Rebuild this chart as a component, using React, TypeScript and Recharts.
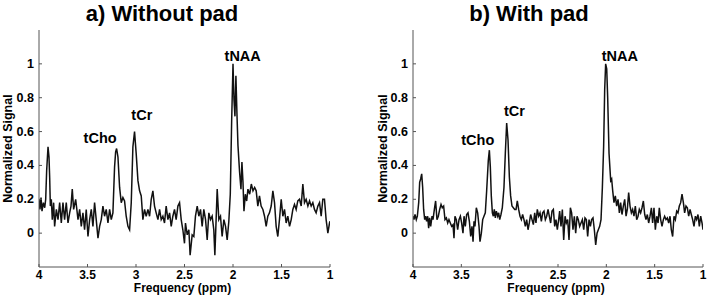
import React from 'react';
import { LineChart, Line, XAxis, YAxis, ReferenceDot, Label } from 'recharts';

// panel a) without pad: chemical shift (ppm) and normalized signal
const ppmA = [
  4.0, 3.99, 3.979, 3.969, 3.955, 3.941,
  3.931, 3.921, 3.907, 3.897, 3.89, 3.883, 3.873, 3.863, 3.849, 3.839,
  3.821, 3.804, 3.787, 3.77, 3.753, 3.736, 3.719, 3.701, 3.684, 3.67,
  3.657, 3.643, 3.622, 3.598, 3.581, 3.564, 3.547, 3.53, 3.513, 3.495,
  3.478, 3.461, 3.444, 3.427, 3.41, 3.392, 3.375, 3.358, 3.341, 3.324,
  3.307, 3.289, 3.272, 3.255, 3.238, 3.221, 3.21, 3.2, 3.186, 3.169,
  3.152, 3.135, 3.118, 3.101, 3.083, 3.066, 3.049, 3.032, 3.015, 2.998,
  2.98, 2.963, 2.946, 2.929, 2.912, 2.895, 2.877, 2.86, 2.843, 2.826,
  2.809, 2.792, 2.774, 2.757, 2.74, 2.723, 2.706, 2.689, 2.671, 2.654,
  2.637, 2.62, 2.603, 2.586, 2.568, 2.551, 2.534, 2.517, 2.5, 2.49,
  2.472, 2.455, 2.442, 2.421, 2.404, 2.387, 2.369, 2.352, 2.335, 2.318,
  2.301, 2.283, 2.266, 2.249, 2.232, 2.215, 2.198, 2.187, 2.163, 2.146,
  2.129, 2.112, 2.094, 2.077, 2.06, 2.043, 2.028, 2.014, 2.0, 1.99,
  1.98, 1.97, 1.959, 1.949, 1.932, 1.918, 1.908, 1.897, 1.887, 1.873,
  1.859, 1.846, 1.828, 1.811, 1.794, 1.777, 1.761, 1.744, 1.727, 1.71,
  1.692, 1.675, 1.658, 1.641, 1.624, 1.606, 1.589, 1.572, 1.555, 1.538,
  1.521, 1.503, 1.486, 1.469, 1.452, 1.435, 1.417, 1.4, 1.383, 1.366,
  1.349, 1.332, 1.314, 1.297, 1.28, 1.263, 1.246, 1.228, 1.211, 1.194,
  1.177, 1.16, 1.143, 1.125, 1.108, 1.091, 1.074, 1.057, 1.04, 1.022,
  1.005, 1.0,
];
const signalA = [
  0.2, 0.14, 0.21, 0.13, 0.18, 0.15,
  0.2, 0.37, 0.51, 0.45, 0.33, 0.16, 0.2, 0.08, 0.18, 0.04,
  0.14, 0.08, 0.18, 0.06, 0.18, 0.08, 0.18, 0.06, 0.12, 0.16,
  0.26, 0.14, 0.2, 0.08, 0.14, 0.04, 0.12, 0.02, 0.14, -0.02,
  0.08, 0.14, 0.04, 0.18, 0.08, -0.03, 0.04, 0.08, 0.16, 0.1,
  0.14, 0.06, 0.14, 0.08, 0.12, 0.39, 0.48, 0.5, 0.45, 0.27,
  0.18, 0.21, 0.19, 0.1, 0.04, 0.02, 0.18, 0.51, 0.6, 0.47,
  0.31, 0.25, 0.22, 0.08, 0.14, 0.1, 0.14, 0.1, 0.2, 0.25,
  0.16, 0.12, 0.08, 0.14, 0.08, 0.1, 0.06, 0.16, 0.08, 0.12,
  0.04, 0.1, 0.14, 0.08, 0.16, 0.18, 0.08, 0.02, -0.06, 0.06,
  -0.01, 0.02, -0.13, -0.01, -0.02, 0.1, 0.16, 0.1, 0.14, 0.04,
  0.14, 0.08, -0.04, 0.12, 0.08, 0.1, 0.02, -0.13, 0.26, 0.08,
  0.1, -0.02, 0.08, 0.04, -0.04, 0.07, 0.23, 0.66, 1.0, 0.79,
  0.69, 0.93, 0.7, 0.52, 0.36, 0.26, 0.42, 0.3, 0.13, 0.23,
  0.19, 0.26, 0.23, 0.29, 0.25, 0.27, 0.25, 0.16, 0.22, 0.16,
  0.14, 0.1, 0.04, 0.1, 0.12, 0.16, 0.25, 0.18, 0.04, -0.02,
  0.08, 0.2, 0.1, 0.14, 0.06, 0.1, 0.04, 0.08, 0.14, 0.17,
  0.14, 0.19, 0.2, 0.16, 0.29, 0.18, 0.2, 0.16, 0.19, 0.16,
  0.18, 0.14, 0.12, 0.16, 0.18, 0.1, 0.2, 0.2, 0.08, 0.0,
  0.06, 0.07,
];

// panel b) with pad
const ppmB = [
  4.0, 3.99, 3.979, 3.966, 3.955, 3.941, 3.931, 3.921, 3.91, 3.9,
  3.89, 3.879, 3.869, 3.859, 3.848, 3.838, 3.828, 3.817, 3.803, 3.793,
  3.779, 3.766, 3.752, 3.738, 3.724, 3.71, 3.697, 3.683, 3.669, 3.655,
  3.641, 3.628, 3.614, 3.6, 3.586, 3.576, 3.566, 3.552, 3.538, 3.524,
  3.51, 3.497, 3.483, 3.472, 3.459, 3.445, 3.431, 3.417, 3.403, 3.39,
  3.379, 3.369, 3.359, 3.345, 3.331, 3.317, 3.307, 3.293, 3.279, 3.266,
  3.252, 3.238, 3.221, 3.21, 3.2, 3.19, 3.179, 3.169, 3.159, 3.148,
  3.138, 3.124, 3.114, 3.103, 3.09, 3.076, 3.059, 3.045, 3.031, 3.017,
  3.003, 2.99, 2.976, 2.962, 2.948, 2.934, 2.921, 2.907, 2.893, 2.879,
  2.866, 2.852, 2.838, 2.824, 2.81, 2.797, 2.783, 2.769, 2.755, 2.741,
  2.728, 2.714, 2.7, 2.686, 2.672, 2.659, 2.645, 2.631, 2.617, 2.603,
  2.59, 2.576, 2.562, 2.548, 2.534, 2.521, 2.507, 2.493, 2.483, 2.469,
  2.455, 2.441, 2.427, 2.414, 2.4, 2.386, 2.372, 2.359, 2.345, 2.331,
  2.317, 2.303, 2.29, 2.276, 2.262, 2.248, 2.234, 2.221, 2.207, 2.193,
  2.179, 2.165, 2.152, 2.138, 2.124, 2.11, 2.096, 2.083, 2.069, 2.055,
  2.041, 2.028, 2.017, 2.007, 1.996, 1.986, 1.972, 1.955, 1.945, 1.934,
  1.921, 1.907, 1.893, 1.879, 1.865, 1.852, 1.838, 1.824, 1.81, 1.796,
  1.783, 1.769, 1.755, 1.741, 1.728, 1.714, 1.7, 1.686, 1.672, 1.659,
  1.645, 1.631, 1.617, 1.603, 1.59, 1.576, 1.562, 1.548, 1.534, 1.521,
  1.507, 1.493, 1.479, 1.465, 1.452, 1.438, 1.424, 1.41, 1.397, 1.383,
  1.369, 1.355, 1.341, 1.328, 1.314, 1.3, 1.286, 1.272, 1.259, 1.245,
  1.231, 1.217, 1.203, 1.19, 1.176, 1.162, 1.148, 1.134, 1.121, 1.107,
  1.093, 1.079, 1.066, 1.052, 1.038, 1.024, 1.01, 1.0,
];
const signalB = [
  0.1, 0.08, 0.11, 0.08, 0.1, 0.18, 0.3, 0.32, 0.35, 0.27,
  0.14, 0.08, 0.1, 0.07, 0.1, 0.03, 0.09, 0.04, 0.1, 0.08,
  0.14, 0.19, 0.08, 0.1, 0.14, 0.17, 0.15, 0.16, 0.08, 0.09,
  0.06, 0.08, 0.06, 0.04, 0.05, -0.03, 0.1, 0.08, 0.02, 0.08,
  0.1, 0.06, 0.0, 0.1, 0.04, 0.11, 0.12, 0.07, -0.02, 0.04,
  -0.05, 0.07, 0.04, 0.15, 0.12, 0.04, -0.05, 0.0, 0.08, 0.1,
  0.12, 0.25, 0.43, 0.49, 0.39, 0.22, 0.12, 0.1, 0.14, 0.09,
  0.13, 0.1, 0.12, 0.08, 0.11, 0.15, 0.27, 0.47, 0.65, 0.55,
  0.33, 0.22, 0.16, 0.15, 0.14, 0.14, 0.19, 0.14, 0.1, 0.08,
  0.11, 0.08, 0.04, 0.08, 0.02, 0.06, 0.11, 0.08, 0.05, 0.12,
  0.06, 0.14, 0.1, 0.12, 0.07, 0.12, 0.13, 0.08, 0.1, 0.14,
  0.1, 0.06, 0.13, 0.14, 0.04, 0.08, 0.02, 0.08, 0.13, 0.04,
  0.14, -0.04, 0.1, 0.06, 0.08, -0.04, 0.15, 0.12, 0.02, 0.1,
  0.0, 0.1, 0.08, 0.04, 0.06, 0.08, 0.02, 0.09, 0.08, -0.02,
  0.08, 0.04, 0.08, 0.09, 0.02, -0.07, 0.0, 0.02, 0.04, 0.08,
  0.27, 0.51, 0.85, 1.0, 0.97, 0.8, 0.47, 0.31, 0.32, 0.25,
  0.18, 0.22, 0.16, 0.2, 0.12, 0.18, 0.11, 0.16, 0.2, 0.1,
  0.14, 0.24, 0.16, 0.12, 0.14, 0.1, 0.16, 0.08, 0.1, 0.14,
  0.12, 0.15, 0.19, 0.11, 0.08, 0.11, 0.06, 0.1, 0.15, 0.06,
  0.15, 0.02, 0.1, 0.06, 0.15, 0.08, 0.04, 0.08, 0.1, 0.08,
  0.09, 0.06, 0.1, 0.02, -0.02, 0.1, 0.08, 0.13, 0.12, 0.16,
  0.18, 0.23, 0.18, 0.12, 0.16, 0.15, 0.1, 0.14, 0.11, 0.08,
  0.04, 0.1, 0.08, 0.11, 0.04, 0.1, 0.06, 0.02,
];

const xTicks = [4, 3.5, 3, 2.5, 2, 1.5, 1];
const yTicks = [0, 0.2, 0.4, 0.6, 0.8, 1];

const peaksA = [
  { name: 'tCho', ppm: 3.37, value: 0.56 },
  { name: 'tCr', ppm: 2.94, value: 0.7 },
  { name: 'tNAA', ppm: 1.9, value: 1.05 },
];
const peaksB = [
  { name: 'tCho', ppm: 3.33, value: 0.55 },
  { name: 'tCr', ppm: 2.95, value: 0.72 },
  { name: 'tNAA', ppm: 1.86, value: 1.05 },
];

const FONT = '"Liberation Sans", Arial, Helvetica, sans-serif';
const AXIS = '#555';

const XTick = (props: any) => {
  const { x, y, payload } = props;
  return (
    <g>
      <line x1={x} x2={x} y1={y - 8} y2={y - 11} stroke={AXIS} />
      <text x={x} y={y} textAnchor="middle" dominantBaseline="central" fontSize={12} fontWeight="bold" fontFamily={FONT} fill="#000">
        {payload.value}
      </text>
    </g>
  );
};

const YTick = (props: any) => {
  const { x, y, payload } = props;
  return (
    <g>
      <line x1={x + 5} x2={x + 8} y1={y} y2={y} stroke={AXIS} />
      <text x={x} y={y} textAnchor="end" dominantBaseline="central" fontSize={12.5} fontWeight="bold" fontFamily={FONT} fill="#000">
        {payload.value}
      </text>
    </g>
  );
};

const xLabel = (props: any) => {
  const { viewBox } = props;
  const cx = viewBox.x + viewBox.width / 2 - 2;
  const cy = viewBox.y + 21;
  return (
    <text x={cx} y={cy} textAnchor="middle" dominantBaseline="central" fontSize={12} fontWeight="bold" fontFamily={FONT} fill="#000">
      Frequency (ppm)
    </text>
  );
};

const yLabel = (offset: number) => (props: any) => {
  const { viewBox } = props;
  const cx = viewBox.x + offset;
  const cy = viewBox.y + viewBox.height / 2;
  return (
    <text x={cx} y={cy} transform={`rotate(-90, ${cx}, ${cy})`} textAnchor="middle" dominantBaseline="central" fontSize={12.5} fontWeight="bold" fontFamily={FONT} fill="#000">
      Normalized Signal
    </text>
  );
};

interface PanelProps {
  title: string;
  ppm: number[];
  signal: number[];
  peaks: { name: string; ppm: number; value: number }[];
  left: number;
  margin: { top: number; right: number; bottom: number; left: number };
  labelOffset: number;
  titleX: number;
}

const Panel = ({ title, ppm, signal, peaks, left, margin, labelOffset, titleX }: PanelProps) => {
  const data = ppm.map((p, i) => ({ ppm: p, signal: signal[i] }));
  return (
    <div style={{ position: 'absolute', left, top: 0, width: 355, height: 297 }}>
      <div
        style={{
          position: 'absolute', left: titleX - 120, width: 240, top: 2, textAlign: 'center',
          fontFamily: FONT, fontWeight: 'bold', fontSize: 22, lineHeight: '24px', color: '#000',
        }}
      >
        {title}
      </div>
      <LineChart width={355} height={297} data={data} margin={margin}>
        <XAxis
          dataKey="ppm"
          type="number"
          domain={[1, 4]}
          reversed
          allowDataOverflow
          ticks={xTicks}
          interval={0}
          height={30}
          tickSize={0}
          tickMargin={8}
          tickLine={false}
          tick={<XTick />}
          axisLine={{ stroke: AXIS }}
        >
          <Label content={xLabel} />
        </XAxis>
        <YAxis
          type="number"
          domain={[-0.2, 1.2]}
          allowDataOverflow
          ticks={yTicks}
          interval={0}
          width={31}
          tickSize={0}
          tickMargin={5}
          tickLine={false}
          tick={<YTick />}
          axisLine={{ stroke: AXIS }}
        >
          <Label content={yLabel(labelOffset)} />
        </YAxis>
        <Line type="linear" dataKey="signal" stroke="#111" strokeWidth={1.5} dot={false} isAnimationActive={false} />
        {peaks.map((p) => (
          <ReferenceDot key={p.name} x={p.ppm} y={p.value} r={0} fill="none" stroke="none">
            <Label value={p.name} position="center" fill="#000" fontSize={14.5} fontWeight="bold" fontFamily={FONT} />
          </ReferenceDot>
        ))}
      </LineChart>
    </div>
  );
};

export default function App() {
  return (
    <div style={{ position: 'absolute', left: 0, top: 0, width: 710, height: 297, background: '#fff' }}>
      <Panel
        title="a) Without pad"
        ppm={ppmA}
        signal={signalA}
        peaks={peaksA}
        left={0}
        margin={{ top: 30, right: 25, bottom: 0, left: 8 }}
        labelOffset={0}
        titleX={162}
      />
      <Panel
        title="b) With pad"
        ppm={ppmB}
        signal={signalB}
        peaks={peaksB}
        left={355}
        margin={{ top: 30, right: 7, bottom: 0, left: 27 }}
        labelOffset={1}
        titleX={174}
      />
    </div>
  );
}
